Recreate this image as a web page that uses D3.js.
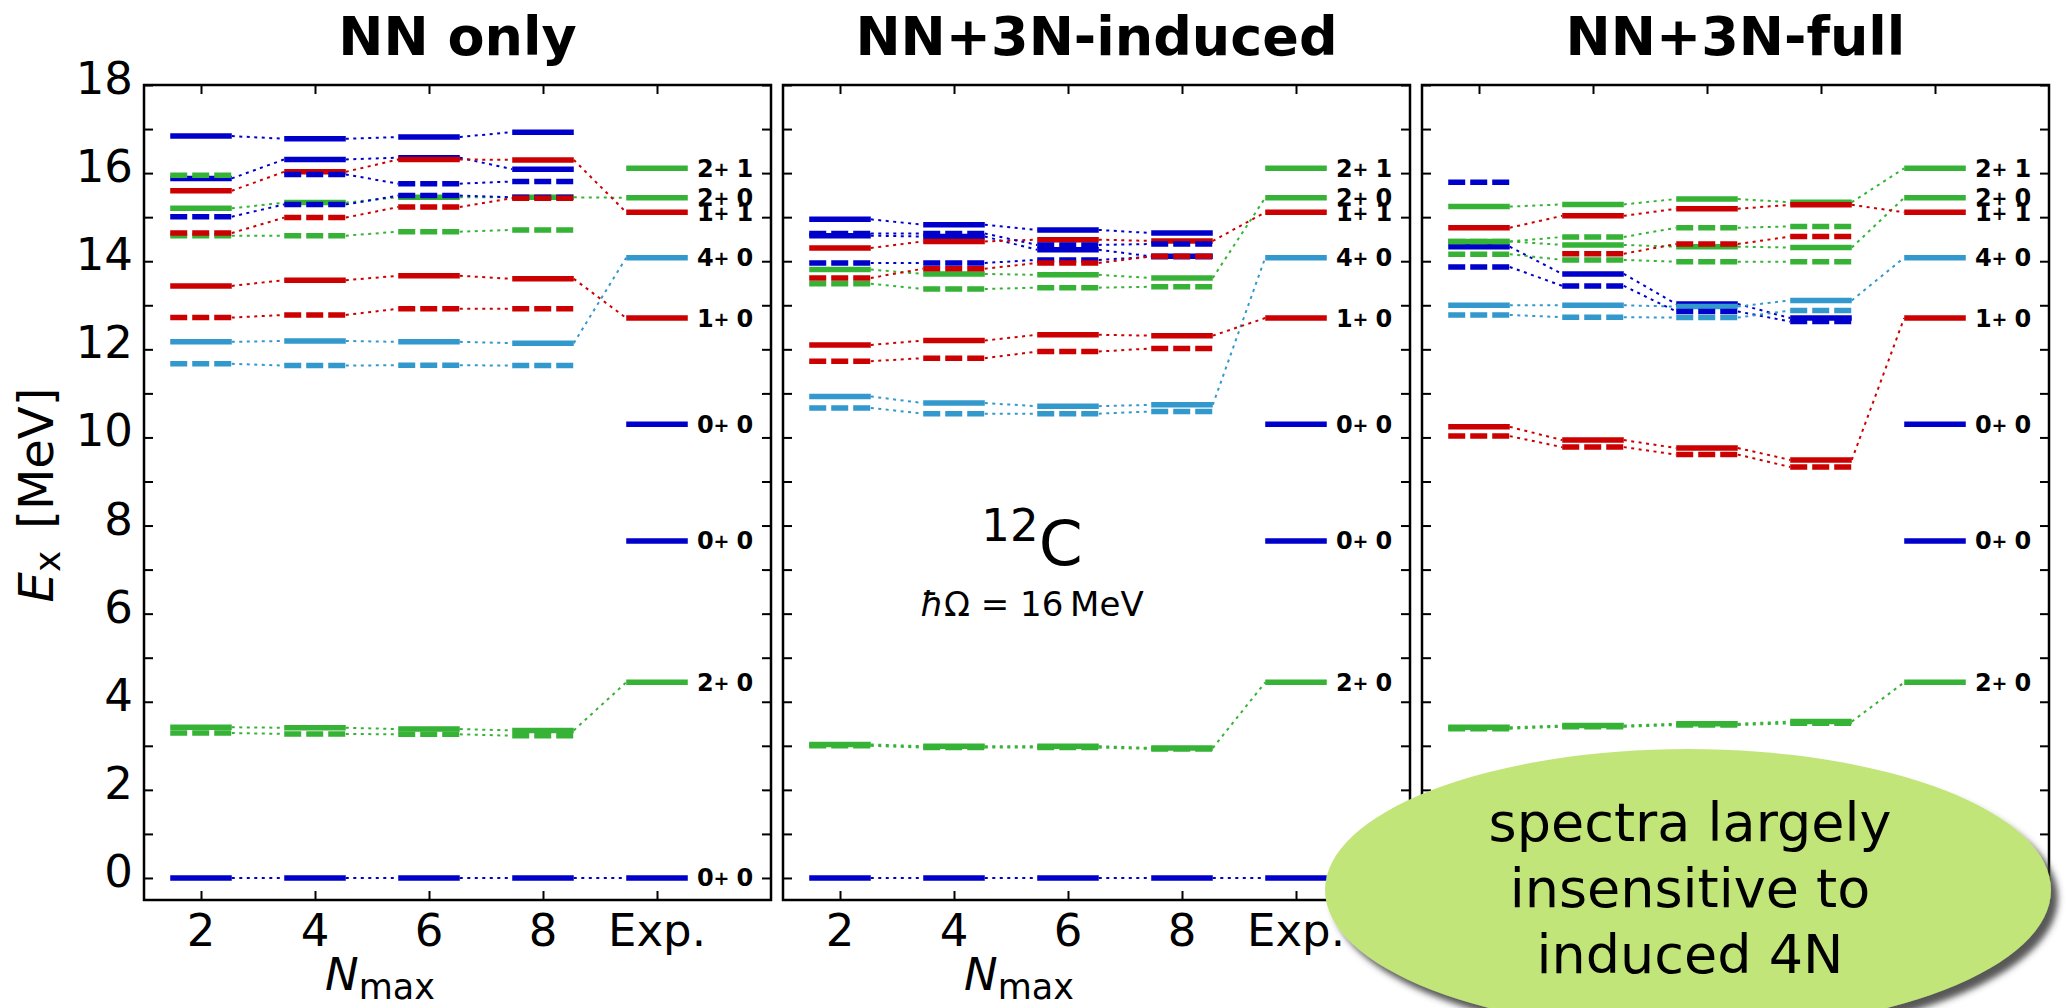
<!DOCTYPE html>
<html>
<head>
<meta charset="utf-8">
<script src="https://cdn.jsdelivr.net/npm/d3@7"></script>
<style>
  body { margin: 0; background: #fff; }
  text { font-family: "DejaVu Sans", sans-serif; }
</style>
</head>
<body>
<svg id="chart" width="2067" height="1008"></svg>
<script>
// ---- data ----
const nmaxLabels = ["2", "4", "6", "8", "Exp."];
const panelTitles = ["NN only", "NN+3N-induced", "NN+3N-full"];

// experimental levels of 12C
const expEnergies = [0, 4.44, 7.65, 10.3, 12.71, 14.08, 15.11, 15.44, 16.11];
const expJ = ["0", "2", "0", "0", "1", "4", "1", "2", "2"];
const expT = ["0", "0", "0", "0", "0", "0", "1", "0", "1"];

// calculated levels, energies for Nmax = 2,4,6,8 (null = not shown)
// set a = solid, set b = dashed; exp = index of linked experimental level
const nnOnly = [
  { j: "0", set: "a", e: [0, 0, 0, 0], exp: 0 },
  { j: "0", set: "a", e: [16.84, 16.78, 16.82, 16.93], exp: null },
  { j: "0", set: "a", e: [15.88, 16.31, 16.35, 16.09], exp: null },
  { j: "4", set: "a", e: [12.17, 12.19, 12.17, 12.14], exp: 5 },
  { j: "2", set: "a", e: [3.42, 3.41, 3.38, 3.35], exp: 1 },
  { j: "2", set: "a", e: [15.20, 15.33, 15.45, 15.45], exp: 7 },
  { j: "1", set: "a", e: [13.44, 13.57, 13.67, 13.60], exp: 4 },
  { j: "1", set: "a", e: [15.60, 16.03, 16.31, 16.30], exp: 6 },
  { j: "0", set: "b", e: [15.01, 15.29, 15.49, 15.45], exp: null },
  { j: "0", set: "b", e: [null, 15.97, 15.76, 15.81], exp: null },
  { j: "4", set: "b", e: [11.67, 11.63, 11.64, 11.63], exp: null },
  { j: "2", set: "b", e: [3.29, 3.27, 3.26, 3.23], exp: null },
  { j: "2", set: "b", e: [14.58, 14.58, 14.67, 14.71], exp: null },
  { j: "2", set: "b", e: [15.95, null, null, null], exp: null },
  { j: "1", set: "b", e: [12.72, 12.78, 12.92, 12.92], exp: null },
  { j: "1", set: "b", e: [14.64, 14.99, 15.23, 15.43], exp: null }
];

const nn3nInduced = [
  { j: "0", set: "a", e: [0, 0, 0, 0], exp: 0 },
  { j: "0", set: "a", e: [14.95, 14.83, 14.71, 14.64], exp: null },
  { j: "0", set: "a", e: [14.58, 14.56, 14.26, 14.11], exp: null },
  { j: "4", set: "a", e: [10.93, 10.78, 10.71, 10.74], exp: 5 },
  { j: "2", set: "a", e: [3.03, 2.99, 2.99, 2.95], exp: 1 },
  { j: "2", set: "a", e: [13.81, 13.71, 13.69, 13.62], exp: 7 },
  { j: "1", set: "a", e: [12.10, 12.20, 12.33, 12.31], exp: 4 },
  { j: "1", set: "a", e: [14.30, 14.45, 14.49, 14.46], exp: 6 },
  { j: "0", set: "b", e: [14.63, 14.63, 14.37, 14.39], exp: null },
  { j: "0", set: "b", e: [13.96, 13.96, 14.03, 14.10], exp: null },
  { j: "4", set: "b", e: [10.67, 10.54, 10.54, 10.59], exp: null },
  { j: "2", set: "b", e: [3.00, 2.96, 2.96, 2.93], exp: null },
  { j: "2", set: "b", e: [13.49, 13.37, 13.40, 13.42], exp: null },
  { j: "1", set: "b", e: [11.73, 11.80, 11.95, 12.02], exp: null },
  { j: "1", set: "b", e: [13.62, 13.83, 13.96, 14.11], exp: null }
];

const nn3nFull = [
  { j: "0", set: "a", e: [0, 0, 0, 0], exp: 0 },
  { j: "0", set: "a", e: [14.33, 13.71, 13.03, 12.71], exp: null },
  { j: "4", set: "a", e: [13.00, 13.00, 12.97, 13.11], exp: 5 },
  { j: "2", set: "a", e: [3.42, 3.46, 3.50, 3.55], exp: 1 },
  { j: "2", set: "a", e: [14.45, 14.37, 14.33, 14.31], exp: 7 },
  { j: "2", set: "a", e: [15.24, 15.29, 15.41, 15.34], exp: 8 },
  { j: "1", set: "a", e: [10.24, 9.94, 9.76, 9.49], exp: 4 },
  { j: "1", set: "a", e: [14.76, 15.03, 15.19, 15.28], exp: 6 },
  { j: "0", set: "b", e: [13.87, 13.44, 12.86, 12.63], exp: null },
  { j: "0", set: "b", e: [15.79, null, null, null], exp: null },
  { j: "4", set: "b", e: [12.78, 12.73, 12.72, 12.88], exp: null },
  { j: "2", set: "b", e: [3.39, 3.43, 3.47, 3.51], exp: null },
  { j: "2", set: "b", e: [14.16, 14.03, 13.99, 13.99], exp: null },
  { j: "2", set: "b", e: [14.45, 14.55, 14.76, 14.79], exp: null },
  { j: "1", set: "b", e: [10.03, 9.78, 9.61, 9.33], exp: null },
  { j: "1", set: "b", e: [null, 14.17, 14.39, 14.56], exp: null }
];

const panels = [nnOnly, nn3nInduced, nn3nFull];

// ---- drawing ----
const colorOf = { "0": "#0000cc", "1": "#cc0000", "2": "#36b336", "4": "#3399cc" };
const panelLeft = [144, 783, 1422];
const panelWidth = 627;
const yTop = 85, yBottom = 900;
const hw = 0.27; // half length of a level bar (in category units)

const svg = d3.select("#chart");

const y = d3.scaleLinear().domain([-0.5, 18]).range([yBottom, yTop]);

const defs = svg.append("defs");
const filt = defs.append("filter").attr("id", "shadow")
  .attr("x", "-10%").attr("y", "-10%").attr("width", "130%").attr("height", "130%");
filt.append("feDropShadow").attr("dx", 7).attr("dy", 8).attr("stdDeviation", 3)
  .attr("flood-color", "#3a3a3a").attr("flood-opacity", 0.85);

panels.forEach(function (levels, p) {
  const x0 = panelLeft[p];
  const x = d3.scaleLinear().domain([-0.5, 5]).range([x0, x0 + panelWidth]);
  const g = svg.append("g");

  // inward ticks on all four sides
  const ticksY = d3.range(0, 19);
  const ticksX = d3.range(0, 5);
  g.append("g").attr("transform", `translate(${x0},0)`)
    .call(d3.axisRight(y).tickValues(ticksY).tickSize(9).tickFormat(""));
  g.append("g").attr("transform", `translate(${x0 + panelWidth},0)`)
    .call(d3.axisLeft(y).tickValues(ticksY).tickSize(9).tickFormat(""));
  g.append("g").attr("transform", `translate(0,${yTop})`)
    .call(d3.axisBottom(x).tickValues(ticksX).tickSize(9).tickFormat(""));
  g.append("g").attr("transform", `translate(0,${yBottom})`)
    .call(d3.axisTop(x).tickValues(ticksX).tickSize(9).tickFormat(""));
  g.selectAll(".domain").remove();
  g.selectAll(".tick line").attr("stroke", "#000").attr("stroke-width", 2);

  // connectors (dotted)
  levels.forEach(function (lv) {
    for (let i = 0; i < 3; i++) {
      if (lv.e[i] == null || lv.e[i + 1] == null) continue;
      g.append("line")
        .attr("x1", x(i + hw)).attr("y1", y(lv.e[i]))
        .attr("x2", x(i + 1 - hw)).attr("y2", y(lv.e[i + 1]))
        .attr("stroke", colorOf[lv.j]).attr("stroke-width", 2)
        .attr("stroke-dasharray", "3,4.5");
    }
    if (lv.exp != null && lv.e[3] != null) {
      g.append("line")
        .attr("x1", x(3 + hw)).attr("y1", y(lv.e[3]))
        .attr("x2", x(4 - hw)).attr("y2", y(expEnergies[lv.exp]))
        .attr("stroke", colorOf[lv.j]).attr("stroke-width", 2)
        .attr("stroke-dasharray", "3,4.5");
    }
  });

  // level bars
  levels.forEach(function (lv) {
    lv.e.forEach(function (v, i) {
      if (v == null) return;
      g.append("line")
        .attr("x1", x(i - hw)).attr("x2", x(i + hw))
        .attr("y1", y(v)).attr("y2", y(v))
        .attr("stroke", colorOf[lv.j]).attr("stroke-width", 5.5)
        .attr("stroke-dasharray", lv.set == "b" ? "17,5" : null);
    });
  });

  // experiment column
  expEnergies.forEach(function (v, k) {
    g.append("line")
      .attr("x1", x(4 - hw)).attr("x2", x(4 + hw))
      .attr("y1", y(v)).attr("y2", y(v))
      .attr("stroke", colorOf[expJ[k]]).attr("stroke-width", 5.5);
    const t = g.append("text")
      .attr("x", x(4.35)).attr("y", y(v) + 8.5)
      .attr("font-family", "'DejaVu Sans Condensed', 'DejaVu Sans', sans-serif")
      .attr("font-size", 24).attr("font-weight", "bold");
    t.append("tspan").text(expJ[k]);
    t.append("tspan").attr("font-size", 19).attr("dy", -1).text("+");
    t.append("tspan").attr("dx", 7).attr("dy", 1).text(expT[k]);
  });

  // frame
  g.append("rect")
    .attr("x", x0).attr("y", yTop)
    .attr("width", panelWidth).attr("height", yBottom - yTop)
    .attr("fill", "none").attr("stroke", "#000").attr("stroke-width", 2.5);

  // x tick labels and axis label (the right panel's are hidden under the note)
  if (p < 2) {
    g.selectAll(".xl").data(nmaxLabels).enter().append("text")
      .attr("x", (d, i) => x(i)).attr("y", 946)
      .attr("text-anchor", "middle").attr("font-size", 45)
      .text(d => d);

    const xl = g.append("text").attr("x", x(1.57)).attr("y", 990)
      .attr("text-anchor", "middle").attr("font-size", 45);
    xl.append("tspan").attr("font-style", "italic").text("N");
    xl.append("tspan").attr("font-size", 35).attr("dy", 9).text("max");
  }

  // title
  svg.append("text")
    .attr("x", x0 + panelWidth / 2).attr("y", 55)
    .attr("text-anchor", "middle").attr("font-size", 54).attr("font-weight", "bold")
    .text(panelTitles[p]);
});

// y axis labels (left panel only)
svg.selectAll(".yl").data(d3.range(0, 19, 2)).enter().append("text")
  .attr("x", 133).attr("y", d => y(d) + 9)
  .attr("text-anchor", "end").attr("font-size", 45)
  .text(d => d);

const ylab = svg.append("text")
  .attr("transform", "translate(53,495) rotate(-90)")
  .attr("text-anchor", "middle").attr("font-size", 48);
ylab.append("tspan").attr("font-style", "italic").text("E");
ylab.append("tspan").attr("font-size", 36).attr("dy", 7).text("x");
ylab.append("tspan").attr("dx", 22).attr("dy", -7).text("[MeV]");

// nucleus annotation in the middle panel
const nuc = svg.append("text").attr("x", 1032).attr("y", 565)
  .attr("text-anchor", "middle").attr("font-size", 63);
nuc.append("tspan").attr("font-size", 45).attr("dy", -24).text("12");
nuc.append("tspan").attr("dy", 24).text("C");

const hw2 = svg.append("text").attr("x", 1032).attr("y", 616)
  .attr("text-anchor", "middle").attr("font-size", 34);
hw2.append("tspan").attr("font-style", "italic").text("\u0127");
hw2.append("tspan").text("\u03A9 = 16\u2009MeV");

// speech ellipse
svg.append("ellipse")
  .attr("cx", 1688).attr("cy", 890).attr("rx", 363).attr("ry", 141)
  .attr("fill", "#c2e57a").attr("filter", "url(#shadow)");

const note = ["spectra largely", "insensitive to", "induced 4N"];
svg.selectAll(".note").data(note).enter().append("text")
  .attr("x", 1690).attr("y", (d, i) => 841 + i * 66)
  .attr("text-anchor", "middle").attr("font-size", 54)
  .text(d => d);
</script>
</body>
</html>
